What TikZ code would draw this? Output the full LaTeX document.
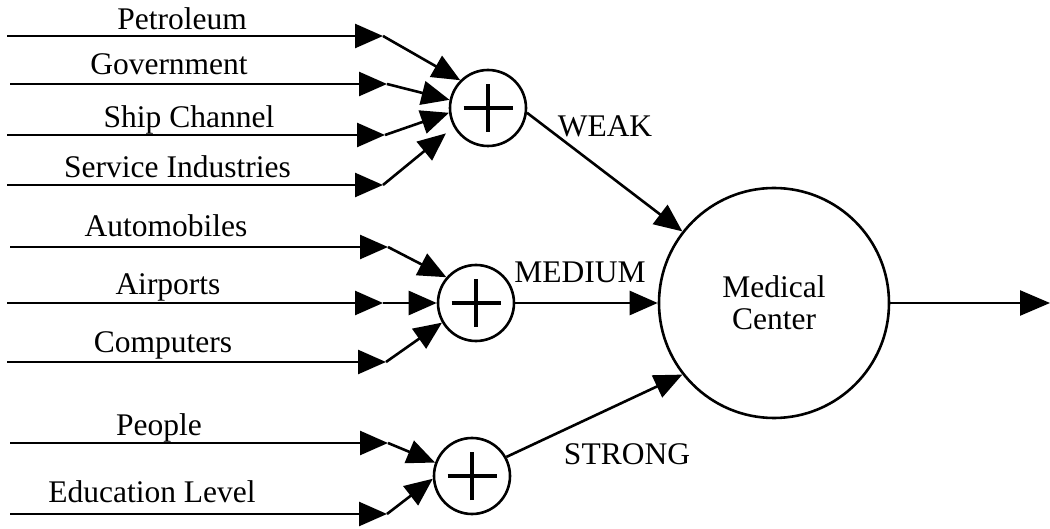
\documentclass[tikz,border=0pt]{standalone}
\usepackage{fontspec}
\setmainfont{Liberation Serif}
\usetikzlibrary{arrows.meta}
\tikzset{
  wire/.style={line width=2.6pt, -{Triangle[length=28pt,width=24pt]}},
  lbl/.style={font=\fontsize{31.5}{36}\selectfont, anchor=base, inner sep=0pt},
  sum/.style={circle, draw, line width=2.6pt, minimum size=76pt, inner sep=0pt,
    path picture={
      \draw[line width=4pt] ([xshift=-24.5pt]path picture bounding box.center) -- ([xshift=24.5pt]path picture bounding box.center);
      \draw[line width=4pt] ([yshift=-24pt]path picture bounding box.center) -- ([yshift=24pt]path picture bounding box.center);
    }},
  big/.style={circle, draw, line width=2.6pt, minimum size=230pt, inner sep=0pt,
    align=center, font=\fontsize{31.5}{32}\selectfont}
}
\begin{document}
\begin{tikzpicture}[x=1pt,y=-1pt]
\useasboundingbox (0,0) rectangle (1050,529);

\node[sum] (s1) at (488,108) {};
\node[sum] (s2) at (476,303) {};
\node[sum] (s3) at (472,476) {};
\node[big] (mc) at (774,303) {Medical\\Center};

\foreach \n/\t/\lx/\ly/\xs/\y/\xt/\tgt/\sh in {
  1/Petroleum/182/30/7/36/383/s1.135/0,
  2/Government/169/75/10/84/387/s1.168/0,
  3/Ship Channel/189/128/7/135/385/s1.187/0,
  4/Service Industries/177.5/178/7/185/383/s1.209/10,
  5/Automobiles/166/237/10/247/388/s2.139/0,
  6/Airports/168/295/7/303/383/s2.180/0,
  7/Computers/163/353/7/362/386/s2.210/0,
  8/People/159/435/10/443/388/s3.160/0,
  9/Education Level/152/502/10/514/387/s3.184/0}
{
  \coordinate (a\n) at (\xs,\y);
  \coordinate (b\n) at (\xt,\y);
  \node[lbl] (l\n) at (\lx,\ly) {\t};
  \draw[wire] (a\n) -- (b\n);
  \draw[wire, shorten >=\sh pt] (b\n) -- (\tgt);
}

\node[lbl] (wk) at (605,137) {WEAK};
\node[lbl] (md) at (580,283) {MEDIUM};
\node[lbl] (st) at (627,464) {STRONG};

\draw[wire] (s1.353) -- (mc.142);
\draw[wire] (s2.east) -- (mc.west);
\draw[wire] (s3.29) -- (mc.218);

\coordinate (out) at (1050,303);
\draw[wire, -{Triangle[length=30pt,width=25pt]}] (mc.east) -- (out);
\end{tikzpicture}
\end{document}
